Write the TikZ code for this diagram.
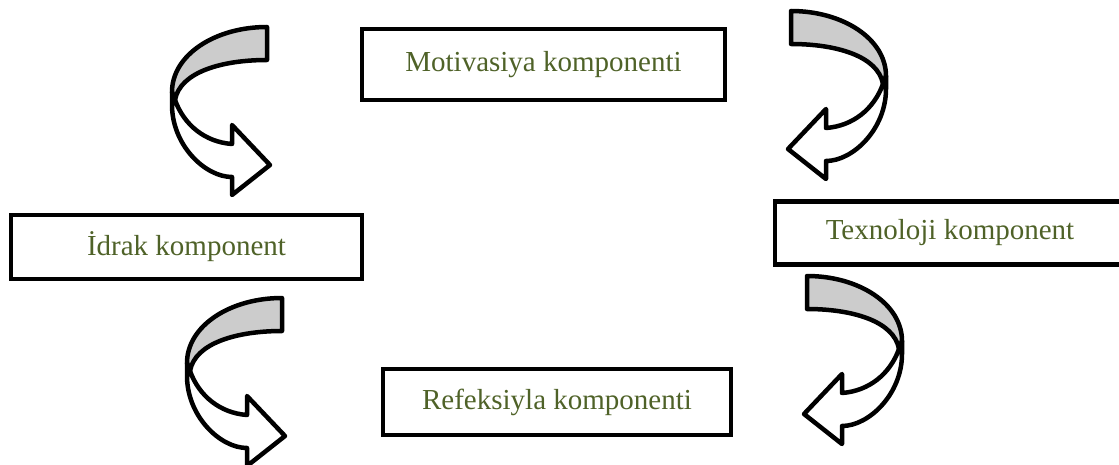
\documentclass[tikz,border=0pt]{standalone}
\usepackage{fontspec}
\setmainfont{Liberation Serif}
\definecolor{olivetext}{RGB}{79,98,40}
\tikzset{
	compbox/.style={draw, line width=4.5pt, text=olivetext, font=\fontsize{29}{34}\selectfont, inner sep=0pt},
	arrowline/.style={draw=black, line width=4.5pt, line join=round},
	curvarrow/.pic={
		\filldraw[arrowline, fill=black!20](95,-73) .. controls (43,-73) and (0,-45) .. (0,-8) -- (3,0) .. controls (8,-28) and (50,-40) .. (95,-40) -- cycle;
		\filldraw[arrowline, fill=white](0,-8) -- (0,5) .. controls (0,45) and (33,77) .. (60,77) -- (60,95) -- (98,65) -- (60,25) -- (60,44) .. controls (33,42) and (12,25) .. (3,0) -- cycle;
	}
}
\begin{document}
\begin{tikzpicture}[x=1pt, y=-1pt]
	\clip (0,0) rectangle (1119,465);

	\node[compbox, minimum width=363pt, minimum height=71pt] (motiv) at (543.5,64.5) {Motivasiya komponenti};
	\node[compbox, minimum width=351pt, minimum height=63.5pt] (idrak) at (186.5,247) {İdrak komponent};
	\node[compbox, minimum width=350pt, minimum height=62.5pt] (texno) at (950,233) {Texnoloji komponent};
	\node[compbox, minimum width=348pt, minimum height=66pt] (refl) at (557,402) {Refeksiyla komponenti};

	\pic at (172,100) {curvarrow};
	\pic[xscale=-1] at (886,84) {curvarrow};
	\pic at (187,371) {curvarrow};
	\pic[xscale=-1] at (902,349) {curvarrow};
\end{tikzpicture}
\end{document}
